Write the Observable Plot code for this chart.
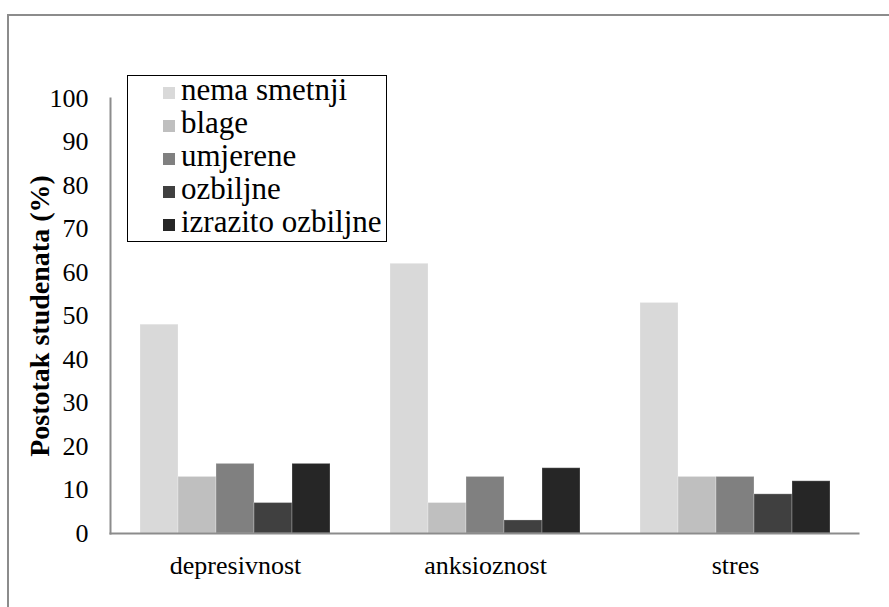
<!DOCTYPE html>
<html>
<head>
<meta charset="utf-8">
<script src="https://cdn.jsdelivr.net/npm/d3@7"></script>
<script src="https://cdn.jsdelivr.net/npm/@observablehq/plot@0.6"></script>
<style>
  html, body { margin: 0; padding: 0; background: #fff; width: 889px; height: 607px; overflow: hidden; }
  #wrap { position: relative; width: 889px; height: 607px; }
  #outer { position: absolute; left: 7px; top: 14px; width: 900px; height: 700px;
           border-left: 2px solid #8c8c8c; border-top: 2px solid #8c8c8c; }
  #chart { position: absolute; left: 0; top: 0; }
  #legend { position: absolute; left: 127px; top: 75px; width: 258px; height: 165px;
            border: 1px solid #000; background: #fff; box-sizing: content-box;
            font-family: "Liberation Serif", serif; font-size: 31px; color: #000; }
  #legend .rows { margin-top: -3px; }
  #legend .row { display: flex; align-items: center; height: 33px; line-height: 33px; padding-left: 35px; white-space: nowrap; }
  #legend .sw { width: 12px; height: 12px; margin-right: 6px; flex: none; position: relative; top: 3.5px; }
  g[aria-label="y-axis label"] text { font-weight: bold; font-size: 28px; }
</style>
</head>
<body>
<div id="wrap">
  <div id="outer"></div>
  <div id="chart"></div>
  <div id="legend"><div class="rows"></div></div>
</div>
<script>
const categories = ["depresivnost", "anksioznost", "stres"];
const series = ["nema smetnji", "blage", "umjerene", "ozbiljne", "izrazito ozbiljne"];
const depresivnost = [48, 13, 16, 7, 16];
const anksioznost = [62, 7, 13, 3, 15];
const stres = [53, 13, 13, 9, 12];
const colors = ["#d9d9d9", "#bfbfbf", "#808080", "#404040", "#262626"];
const yTicks = [0, 10, 20, 30, 40, 50, 60, 70, 80, 90, 100];
const yLabel = "Postotak studenata (%)";

const valuesByCat = {depresivnost, anksioznost, stres};
const data = [];
for (const c of categories) series.forEach((s, i) => data.push({cat: c, s, v: valuesByCat[c][i]}));

const chart = Plot.plot({
  width: 889,
  height: 607,
  marginLeft: 139,
  marginRight: 58,
  marginTop: 98,
  marginBottom: 74,
  style: {fontFamily: "Liberation Serif", fontSize: "26px", color: "#000", background: "transparent"},
  fx: {domain: categories, paddingInner: 0.232, paddingOuter: 0, label: null},
  x: {domain: series, axis: null, padding: 0},
  y: {domain: [0, 100], ticks: yTicks},
  color: {domain: series, range: colors},
  marks: [
    Plot.barY(data, {fx: "cat", x: "s", y: "v", fill: "s", stroke: "white", strokeOpacity: 0.25, strokeWidth: 1}),
    Plot.axisY({ticks: yTicks, tickSize: 0, tickPadding: 51, label: yLabel, labelAnchor: "center",
                labelArrow: "none", labelOffset: 110, fontSize: 26}),
    Plot.axisFx({anchor: "bottom", tickSize: 0, tickPadding: 22, label: null, fontSize: 26}),
    Plot.frame({anchor: "bottom", facet: "super", stroke: "#8c8c8c", strokeWidth: 2, insetLeft: -29, insetRight: -27}),
    Plot.frame({anchor: "left", facet: "super", stroke: "#8c8c8c", strokeWidth: 2, insetLeft: -29})
  ]
});
document.getElementById("chart").appendChild(chart);

const rows = document.querySelector("#legend .rows");
series.forEach((s, i) => {
  const row = document.createElement("div");
  row.className = "row";
  const sw = document.createElement("span");
  sw.className = "sw";
  sw.style.background = colors[i];
  const t = document.createElement("span");
  t.textContent = s;
  row.appendChild(sw);
  row.appendChild(t);
  rows.appendChild(row);
});
</script>
</body>
</html>
